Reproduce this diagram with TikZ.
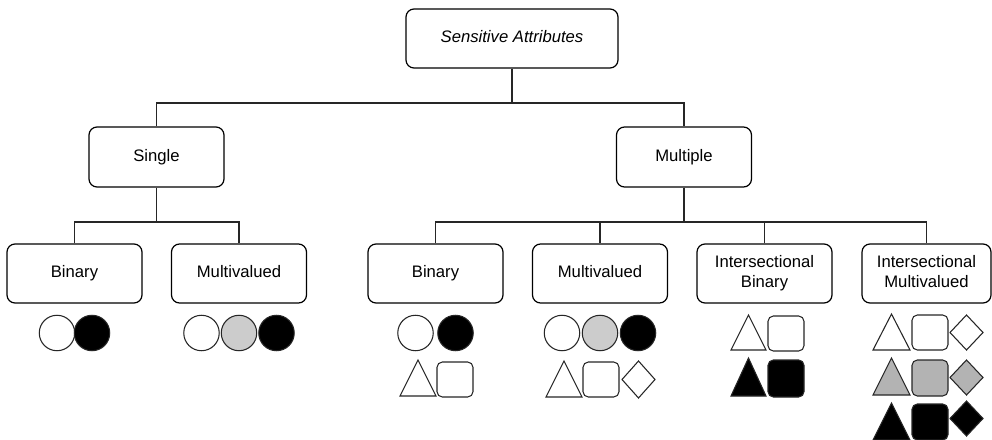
\documentclass[tikz,border=0pt]{standalone}
\usepackage{fontspec}
\setmainfont{Liberation Sans}
\definecolor{lgray}{HTML}{CCCCCC}
\definecolor{mgray}{HTML}{B3B3B3}
\newcommand\mytri[5]{\draw[shp,fill=#5] (#1,#4) -- ({(#1+#2)/2},#3) -- (#2,#4) -- cycle;}
\newcommand\mysq[5]{\draw[shp,fill=#5,rounded corners=4pt] (#1,#3) rectangle (#2,#4);}
\newcommand\mydia[5]{\draw[shp,fill=#5] (#1,{(#3+#4)/2}) -- ({(#1+#2)/2},#3) -- (#2,{(#3+#4)/2}) -- ({(#1+#2)/2},#4) -- cycle;}
\newcommand\mycirc[3]{\draw[shp,fill=#3] (#1,#2) circle[radius=13.3pt];}
\begin{document}
\begin{tikzpicture}[x=0.75pt,y=-0.75pt,
  box/.style={draw, rounded corners=6pt, line width=0.9pt, align=center, inner sep=0pt,
    minimum width=101.25pt, minimum height=44.25pt, font=\fontsize{12.5}{15}\selectfont},
  conn/.style={line width=0.85pt, draw=black!85},
  shp/.style={line width=0.8pt, draw=black!85, line join=miter}]
\useasboundingbox (0,0) rectangle (992,439);
\clip (0,0) rectangle (992,439);

% nodes
\node[box, minimum width=159pt] (top) at (512,38.5) {\itshape Sensitive Attributes\vphantom{y}};
\node[box, minimum height=45pt] (single) at (156.5,157) {Single};
\node[box, minimum height=45pt] (multiple) at (684,157) {Multiple};
\node[box] (b1) at (74.5,273.5) {Binary};
\node[box] (m1) at (239,273.5) {Multivalued\vphantom{y}};
\node[box] (b2) at (435.5,273.5) {Binary};
\node[box] (m2) at (600,273.5) {Multivalued\vphantom{y}};
\node[box] (ib) at (764.5,273.5) {Intersectional\\Binary};
\node[box, minimum width=96.75pt] (im) at (926.5,273.5) {Intersectional\\Multivalued\vphantom{y}};

% bus levels
\coordinate (busA) at (0,103);
\coordinate (busB) at (0,222);

% connectors
\draw[conn] (top.south) -- (top.south |- busA);
\draw[conn] (single.north) -- (single.north |- busA) -| (multiple.north);
\draw[conn] (single.south) -- (single.south |- busB);
\draw[conn] (b1.north) -- (b1.north |- busB) -| (m1.north);
\draw[conn] (multiple.south) -- (multiple.south |- busB);
\draw[conn] (b2.north) -- (b2.north |- busB) -| (im.north);
\draw[conn] (m2.north) -- (m2.north |- busB);
\draw[conn] (ib.north) -- (ib.north |- busB);

% Single / Binary
\mycirc{57}{333}{white}
\mycirc{92}{333}{black}
% Single / Multivalued
\mycirc{201.5}{333}{white}
\mycirc{239}{333}{lgray}
\mycirc{276.5}{333}{black}
% Multiple / Binary
\mycirc{415.5}{333}{white}
\mycirc{455.5}{333}{black}
\mytri{400}{436}{360}{396}{white}
\mysq{437}{473}{362}{397}{white}
% Multiple / Multivalued
\mycirc{562}{333}{white}
\mycirc{600}{333}{lgray}
\mycirc{638}{333}{black}
\mytri{546}{582}{361}{397}{white}
\mysq{583}{619}{362}{397}{white}
\mydia{622}{655}{361}{398}{white}
% Intersectional Binary
\mytri{731}{766}{315}{350}{white}
\mysq{768}{804}{316}{351}{white}
\mytri{731}{766}{358}{396}{black}
\mysq{768}{804}{360}{397}{black}
% Intersectional Multivalued
\mytri{873}{910}{314}{350}{white}
\mysq{912}{948}{315}{350}{white}
\mydia{950}{983}{315}{350}{white}
\mytri{873}{910}{358}{395}{mgray}
\mysq{912}{948}{360}{396}{mgray}
\mydia{950}{983}{360}{395}{mgray}
\mytri{873}{910}{403}{440}{black}
\mysq{912}{948}{404}{440}{black}
\mydia{950}{983}{401}{436}{black}
\end{tikzpicture}
\end{document}
